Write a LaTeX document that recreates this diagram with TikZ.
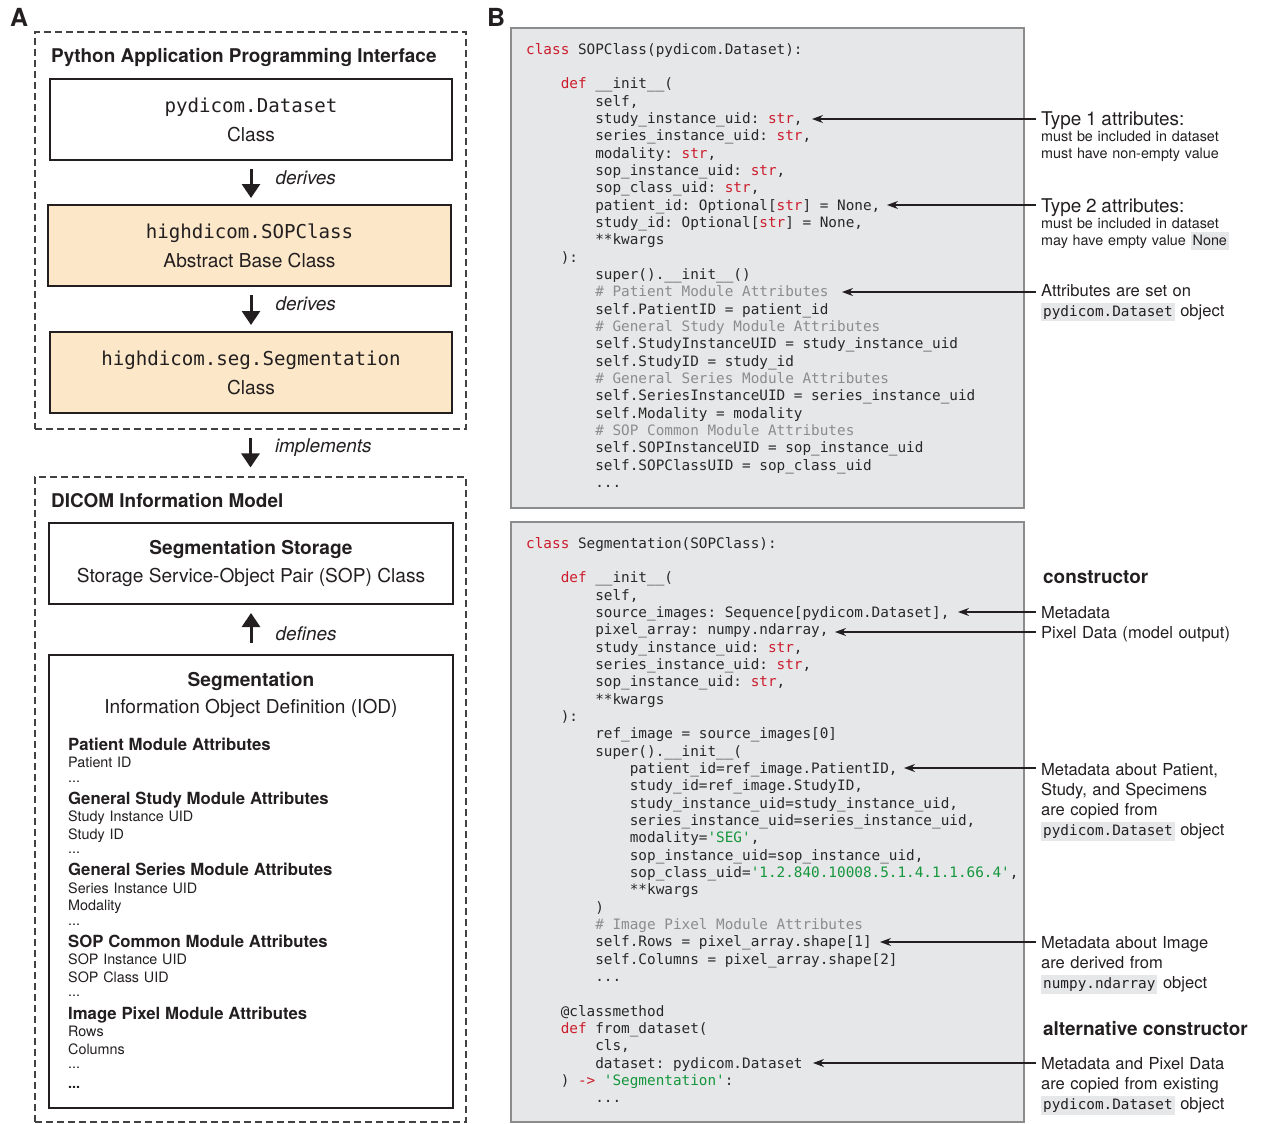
\documentclass[tikz,border=0pt]{standalone}
\usepackage{fontspec}
\setmainfont{TeX Gyre Heros}
\newfontfamily\code{DejaVu Sans Mono}
\usetikzlibrary{arrows.meta}

\definecolor{ink}{RGB}{35,31,32}
\definecolor{codeink}{RGB}{40,40,40}
\definecolor{peach}{RGB}{252,232,201}
\definecolor{codebg}{RGB}{230,231,232}
\definecolor{codeframe}{RGB}{140,140,140}
\definecolor{kwred}{RGB}{204,28,45}
\definecolor{cmtgray}{RGB}{140,140,140}
\definecolor{strgreen}{RGB}{20,150,60}

\newcommand\kw[1]{\textcolor{kwred}{#1}}
\newcommand\cm[1]{\textcolor{cmtgray}{#1}}
\newcommand\st[1]{\textcolor{strgreen}{#1}}
\newcommand\ind[1]{\hspace*{#1\dimexpr2.408em\relax}}
\newcommand\mono{\spaceskip=.602em\relax\xspaceskip=.602em\relax}
\newcommand\bigcode{\code\fontsize{19.2}{29}\selectfont}
\newcommand\hl[1]{{\setlength\fboxsep{2bp}\colorbox{codebg}{\rule[-2bp]{0pt}{13.5bp}#1}}}
\newcommand\ic[1]{\hl{\code\fontsize{14.4}{17}\selectfont #1}}
\newcommand\hd[1]{{\fontsize{16.8}{17.6}\selectfont\bfseries #1}}

\begin{document}
\begin{tikzpicture}[x=1bp,y=-1bp,>={Stealth[length=11bp,width=8bp]},
                    text=ink]
  \tikzstyle{panel}=[inner sep=0,font=\fontsize{25}{25}\selectfont\bfseries]
  \tikzstyle{dashframe}=[draw=ink!85,line width=1.1bp,dash pattern=on 7bp off 4bp]
  \tikzstyle{heading}=[anchor=base west,inner sep=0,font=\fontsize{19}{22}\selectfont\bfseries]
  \tikzstyle{classbox}=[draw=ink,line width=2bp,fill=white,align=center,inner sep=0,
                        minimum width=402bp,minimum height=81bp,font=\fontsize{19.2}{29}\selectfont]
  \tikzstyle{bigarrow}=[-{Triangle[length=14bp,width=18bp]},line width=3bp,draw=ink,
                        shorten <=8bp,shorten >=6bp]
  \tikzstyle{lbl}=[anchor=west,inner sep=0,xshift=23bp,font=\fontsize{19}{22}\selectfont\itshape]
  \tikzstyle{attrlist}=[anchor=base west,inner sep=0,text width=370bp,align=left,
                        font=\fontsize{14.4}{17.6}\selectfont]
  \tikzstyle{codebox}=[draw=codeframe,line width=1.5bp,fill=codebg]
  \tikzstyle{src}=[anchor=base west,inner sep=0,text width=495bp,align=left,text=codeink,
                   font=\code\fontsize{14.4}{17.4}\selectfont]
  \tikzstyle{ann}=[anchor=base west,inner xsep=5bp,inner ysep=0,text width=215bp,align=left,
                   font=\fontsize{14.4}{17}\selectfont]
  \tikzstyle{annbig}=[ann,font=\fontsize{16.6}{20.4}\selectfont]
  \tikzstyle{note}=[anchor=base west,inner sep=0,font=\fontsize{19}{22}\selectfont\bfseries]
  \tikzstyle{ptr}=[->,color=ink,line width=1.1bp]

  \useasboundingbox (0,0) rectangle (1261,1124);

  \node[panel] (A) at (19,17) {A};
  \node[panel] (B) at (496,17) {B};

  % A: python api
  \node[dashframe,minimum width=431bp,minimum height=397bp] (apiF) at (250.5,230.5) {};
  \node[heading] (apiT) at (51,62.5) {Python Application Programming Interface};
  \node[classbox]            (pyd) at (251,119.5) {{\bigcode pydicom.Dataset}\\Class};
  \node[classbox,fill=peach] (sop) at (249.5,245.5) {{\bigcode highdicom.SOPClass}\\Abstract Base Class};
  \node[classbox,fill=peach] (seg) at (251,372.5) {{\bigcode highdicom.seg.Segmentation}\\Class};

  % A: dicom information model
  \node[dashframe,minimum width=431bp,minimum height=645bp] (dimF) at (250.5,799.5) {};
  \node[heading] (dimT) at (51,507.5) {DICOM Information Model};
  \node[classbox,minimum width=404bp] (sto) at (251,563.5)
       {\textbf{Segmentation Storage}\\Storage Service-Object Pair (SOP) Class};
  \node[classbox,minimum width=404bp,minimum height=453bp] (iod) at (251,881.5) {};
  \node[align=center,inner sep=0,font=\fontsize{19.2}{28}\selectfont] (iodT) at (251,695)
       {\textbf{Segmentation}\\Information Object Definition (IOD)};
  \node[attrlist] (iodL) at (68,750) {%
    \hd{Patient Module Attributes}\\
    Patient ID\\[-3bp]
    ...\\[4.5bp]
    \hd{General Study Module Attributes}\\
    Study Instance UID\\
    Study ID\\[-3bp]
    ...\\[4.5bp]
    \hd{General Series Module Attributes}\\
    Series Instance UID\\
    Modality\\[-3bp]
    ...\\[4.5bp]
    \hd{SOP Common Module Attributes}\\
    SOP Instance UID\\
    SOP Class UID\\[-3bp]
    ...\\[4.5bp]
    \hd{Image Pixel Module Attributes}\\
    Rows\\
    Columns\\[-3bp]
    ...\\[2bp]
    \textbf{...}};

  \path (pyd.south) edge[bigarrow] node[lbl,pos=.38] {derives} (pyd.south |- sop.north)
        (seg.north |- sop.south) edge[bigarrow] node[lbl,pos=.38] {derives} (seg.north)
        (apiF.south) edge[bigarrow,shorten >=9bp] node[lbl,pos=.38] {implements} (dimF.north)
        (iod.north) edge[bigarrow,shorten <=11bp,shorten >=8bp] node[lbl,pos=.41] {defines} (sto.south)
  ; %end path

  % B: code
  \node[codebox,minimum width=513bp,minimum height=480bp] (boxA) at (767.5,268) {};
  \node[src] (srcA) at (526,54) {\mono
    \kw{class} SOPClass(pydicom.Dataset):\\
    \mbox{}\\
    \ind1\kw{def} \_\_init\_\_(\\
    \ind2self,\\
    \ind2study\_instance\_uid: \kw{str},\\
    \ind2series\_instance\_uid: \kw{str},\\
    \ind2modality: \kw{str},\\
    \ind2sop\_instance\_uid: \kw{str},\\
    \ind2sop\_class\_uid: \kw{str},\\
    \ind2patient\_id: Optional[\kw{str}] = None,\\
    \ind2study\_id: Optional[\kw{str}] = None,\\
    \ind2**kwargs\\
    \ind1):\\
    \ind2super().\_\_init\_\_()\\
    \ind2\cm{\# Patient Module Attributes}\\
    \ind2self.PatientID = patient\_id\\
    \ind2\cm{\# General Study Module Attributes}\\
    \ind2self.StudyInstanceUID = study\_instance\_uid\\
    \ind2self.StudyID = study\_id\\
    \ind2\cm{\# General Series Module Attributes}\\
    \ind2self.SeriesInstanceUID = series\_instance\_uid\\
    \ind2self.Modality = modality\\
    \ind2\cm{\# SOP Common Module Attributes}\\
    \ind2self.SOPInstanceUID = sop\_instance\_uid\\
    \ind2self.SOPClassUID = sop\_class\_uid\\
    \ind2...};

  \node[codebox,minimum width=513bp,minimum height=600bp] (boxB) at (767.5,822) {};
  \node[src] (srcB) at (526,548) {\mono
    \kw{class} Segmentation(SOPClass):\\
    \mbox{}\\
    \ind1\kw{def} \_\_init\_\_(\\
    \ind2self,\\
    \ind2source\_images: Sequence[pydicom.Dataset],\\
    \ind2pixel\_array: numpy.ndarray,\\
    \ind2study\_instance\_uid: \kw{str},\\
    \ind2series\_instance\_uid: \kw{str},\\
    \ind2sop\_instance\_uid: \kw{str},\\
    \ind2**kwargs\\
    \ind1):\\
    \ind2ref\_image = source\_images[0]\\
    \ind2super().\_\_init\_\_(\\
    \ind3patient\_id=ref\_image.PatientID,\\
    \ind3study\_id=ref\_image.StudyID,\\
    \ind3study\_instance\_uid=study\_instance\_uid,\\
    \ind3series\_instance\_uid=series\_instance\_uid,\\
    \ind3modality=\st{'SEG'},\\
    \ind3sop\_instance\_uid=sop\_instance\_uid,\\
    \ind3sop\_class\_uid=\st{'1.2.840.10008.5.1.4.1.1.66.4'},\\
    \ind3**kwargs\\
    \ind2)\\
    \ind2\cm{\# Image Pixel Module Attributes}\\
    \ind2self.Rows = pixel\_array.shape[1]\\
    \ind2self.Columns = pixel\_array.shape[2]\\
    \ind2...\\
    \mbox{}\\
    \ind1@classmethod\\
    \ind1\kw{def} from\_dataset(\\
    \ind2cls,\\
    \ind2dataset: pydicom.Dataset\\
    \ind1) \kw{->} \st{'Segmentation'}:\\
    \ind2...};

  % B: notes
  \coordinate (a1) at (812,119);
  \coordinate (a2) at (887,205);
  \coordinate (a3) at (842,292);
  \coordinate (b1) at (958,612);
  \coordinate (b2) at (835,632);
  \coordinate (b3) at (904,768);
  \coordinate (b4) at (880,942);
  \coordinate (b5) at (813,1063);

  \node[ann] (n1) at (1036,125) {{\fontsize{19}{17}\selectfont Type 1 attributes:}\\
       must be included in dataset\\must have non-empty value};
  \node[ann] (n2) at (1036,212) {{\fontsize{19}{17}\selectfont Type 2 attributes:}\\
       must be included in dataset\\may have empty value \hl{None}};
  \node[annbig] (n3) at (1036,296) {Attributes are set on\\\ic{pydicom.Dataset} object};
  \node[note] (ctor) at (1043,583) {constructor};
  \node[annbig] (n4) at (1036,618) {Metadata};
  \node[annbig] (n5) at (1036,638) {Pixel Data (model output)};
  \node[annbig] (n6) at (1036,775) {Metadata about Patient,\\Study, and Specimens\\
       are copied from\\\ic{pydicom.Dataset} object};
  \node[annbig] (n7) at (1036,948) {Metadata about Image\\are derived from\\
       \ic{numpy.ndarray} object};
  \node[note] (actor) at (1043,1035) {alternative constructor};
  \node[annbig] (n8) at (1036,1069) {Metadata and Pixel Data\\are copied from existing\\
       \ic{pydicom.Dataset} object};

  \path[ptr] (a1 -| n1.west) edge (a1)
             (a2 -| n2.west) edge (a2)
             (a3 -| n3.west) edge (a3)
             (b1 -| n4.west) edge (b1)
             (b2 -| n5.west) edge (b2)
             (b3 -| n6.west) edge (b3)
             (b4 -| n7.west) edge (b4)
             (b5 -| n8.west) edge (b5)
  ; %end path

\end{tikzpicture}
\end{document}
